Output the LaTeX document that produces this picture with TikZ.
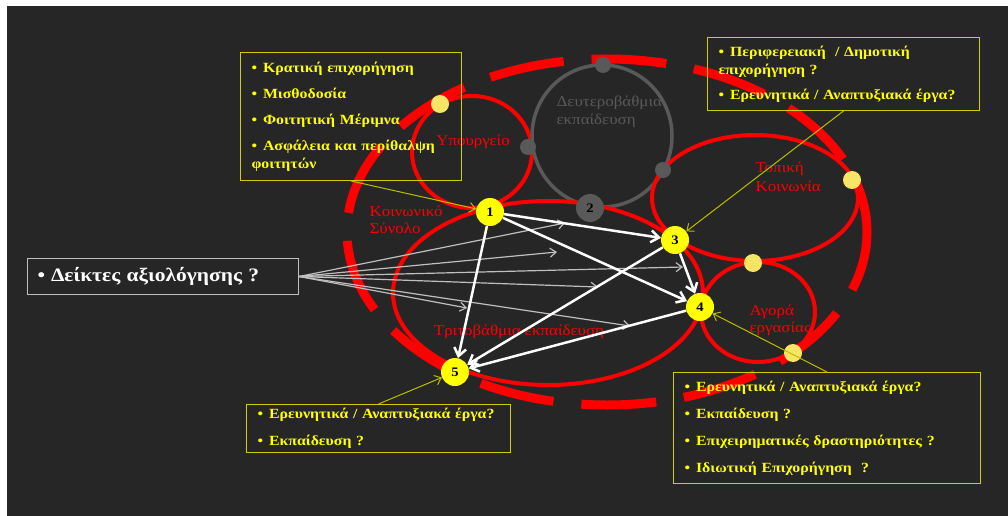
\documentclass[tikz,border=0pt]{standalone}
\usepackage{fontspec}
\setmainfont{Liberation Serif}[FakeStretch=1.13]
\usetikzlibrary{arrows.meta}

\definecolor{bgdark}{HTML}{262626}
\definecolor{ringred}{HTML}{FF0000}
\definecolor{ringgrey}{HTML}{595959}
\definecolor{boxyellow}{HTML}{CFCF00}
\definecolor{textyellow}{HTML}{FFFF00}
\definecolor{dotyellow}{HTML}{F9E565}
\definecolor{linkolive}{HTML}{BDBD00}
\definecolor{linkgrey}{HTML}{BFBFBF}

\newcommand{\blt}{\textbullet\hspace{6pt}}

\begin{document}
\begin{tikzpicture}[x=1pt, y=-1pt,
	ring/.style={draw=ringred, line width=4pt},
	num/.style={circle, fill=textyellow, minimum size=28pt, inner sep=0pt, font=\fontsize{13}{13}\selectfont\bfseries},
	dot/.style={circle, fill=dotyellow, minimum size=18pt, inner sep=0pt},
	greydot/.style={circle, fill=ringgrey, minimum size=16pt, inner sep=0pt},
	lbl/.style={text=ringred, align=left, font=\fontsize{15}{18}\selectfont},
	box/.style={draw=boxyellow, line width=1pt, anchor=north west, align=left, text=textyellow, inner xsep=11pt, inner ysep=0pt, font=\fontsize{14}{18}\selectfont\bfseries},
	warrow/.style={draw=white, line width=2.5pt, -{Straight Barb[length=8pt, width=12pt]}},
	garrow/.style={draw=linkgrey, line width=1.2pt, -{Straight Barb[length=6pt, width=9pt]}},
	yarrow/.style={draw=linkolive, line width=1pt, -{Straight Barb[length=6pt, width=10pt]}}
	]

	\useasboundingbox (0,0) rectangle (1008,516);
	\fill[white] (0,0) rectangle (1008,516);
	\fill[bgdark] (7,6) rectangle (1008,516);

	% rings
	\draw[ringred, line width=9pt, dash pattern=on 75pt off 28pt, dash phase=25pt] (607,232) ellipse [x radius=260pt, y radius=173pt];
	\draw[ring] (472,152) ellipse [x radius=60pt, y radius=56pt];
	\draw[draw=ringgrey, line width=3.5pt] (602,136) ellipse [x radius=70pt, y radius=71pt];
	\draw[ring] (755,198) ellipse [x radius=103pt, y radius=63pt];
	\draw[ring] (758,312) ellipse [x radius=57pt, y radius=50pt];
	\draw[ring] (548,293) ellipse [x radius=155pt, y radius=92pt];

	\node (ypourgeio) [lbl] at (473,142) {Υπουργείο};
	\node (deutero) [lbl, text=ringgrey, anchor=west] at (553,112) {Δευτεροβάθμια\\εκπαίδευση};
	\node (koinoniko) [lbl, anchor=west, font=\fontsize{15}{17}\selectfont] at (366,220) {Κοινωνικό\\Σύνολο};
	\node (topiki) [lbl, anchor=west, font=\fontsize{15}{19}\selectfont] at (752,177) {Τοπική\\Κοινωνία};
	\node (agora) [lbl, anchor=west, font=\fontsize{15}{17}\selectfont] at (746,320) {Αγορά\\εργασίας};
	\node (tritov) [lbl] at (519,332) {Τριτοβάθμια εκπαίδευση};

	\node (d1) [dot] at (440,104) {};
	\node (d2) [dot] at (852,180) {};
	\node (d3) [dot] at (753,263) {};
	\node (d4) [dot] at (793,353) {};
	\node (gd1) [greydot] at (603,65) {};
	\node (gd2) [greydot] at (528,147) {};
	\node (gd3) [greydot] at (663,170) {};

	% text boxes
	\node (kratiki) [box, text width=199pt, minimum height=128pt] at (240,52) {\blt Κρατική επιχορήγηση\\[8pt]\blt Μισθοδοσία\\[8pt]\blt Φοιτητική Μέριμνα\\[8pt]\blt Ασφάλεια και περίθαλψη\\φοιτητών};
	\node (perif) [box, text width=250pt, minimum height=73pt] at (707,37) {\blt Περιφερειακή \ / Δημοτική\\επιχορήγηση ?\\[7pt]\blt Ερευνητικά / Αναπτυξιακά έργα?};
	\node (ereuna5) [box, text width=242pt, minimum height=48pt] at (246,404) {\blt Ερευνητικά / Αναπτυξιακά έργα?\\[9pt]\blt Εκπαίδευση ?};
	\node (ereuna4) [box, text width=285pt, minimum height=111pt] at (673,372) {\blt Ερευνητικά / Αναπτυξιακά έργα?\\[9pt]\blt Εκπαίδευση ?\\[9pt]\blt Επιχειρηματικές δραστηριότητες ?\\[9pt]\blt Ιδιωτική Επιχορήγηση \ ?};
	\node (deiktes) [box, draw=linkgrey, text=white, text width=251pt, minimum height=36pt, inner xsep=10pt, font=\fontsize{19}{22}\selectfont\bfseries] at (27,258) {\blt Δείκτες αξιολόγησης ?};

	% grey links
	\coordinate (g1) at (565,223);
	\coordinate (g2) at (557,252);
	\coordinate (g3) at (683,267);
	\coordinate (g4) at (598,287);
	\coordinate (g5) at (467,308);
	\coordinate (g6) at (630,326);
	\foreach \g in {g1,g2,g3,g4,g5,g6}
		\draw [garrow] (deiktes.east) -- (\g);

	% numbered nodes
	\node (n1) [num] at (490,212) {1};
	\node (n2) [num, fill=ringgrey] at (590,208) {2};
	\node (n3) [num] at (675,240) {3};
	\node (n4) [num] at (700,307) {4};
	\node (n5) [num] at (455,372) {5};

	\draw [warrow] (n1) -- (n3);
	\draw [warrow] (n1) -- (n4);
	\draw [warrow] (n1) -- (n5);
	\draw [warrow] (n3) -- (n4);
	\draw [warrow] (n3) -- (n5);
	\draw [warrow] (n4) -- (n5);

	\draw [yarrow] (kratiki.south) -- (n1);
	\draw [yarrow] (perif.south) -- (n3);
	\draw [yarrow] (ereuna4.north) -- (n4);
	\draw [yarrow] (ereuna5.north) -- (n5);

\end{tikzpicture}
\end{document}
